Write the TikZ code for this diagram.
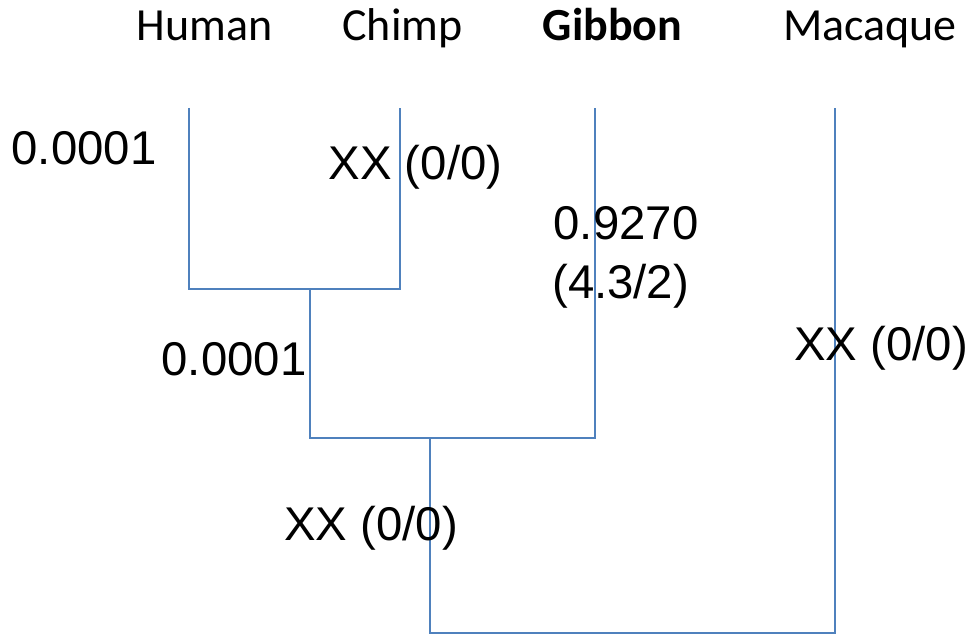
\documentclass[tikz,border=0pt]{standalone}
\usepackage{fontspec}
\setmainfont{Carlito}
\newfontfamily\arialfont{Liberation Sans}
\definecolor{treeblue}{HTML}{4F81BD}
\begin{document}
\begin{tikzpicture}[x=0.75pt,y=-0.75pt,
  taxon/.style={font=\fontsize{34.5}{41}\selectfont, inner sep=0pt, anchor=base},
  blabel/.style={font=\arialfont\fontsize{35.5}{42}\selectfont, inner sep=0pt, anchor=base},
  branch/.style={draw=treeblue, line width=1.2pt}]
\useasboundingbox (0,0) rectangle (973,634);
% taxa
\node[taxon] (human) at (204.5,41) {Human};
\node[taxon] (chimp) at (402.5,41) {Chimp};
\node[taxon] (gibbon) at (612.5,41) {\textbf{Gibbon}};
\node[taxon] (macaque) at (870,41) {Macaque};
% tree coordinates
\coordinate (hT) at (189,108);
\coordinate (cT) at (400,108);
\coordinate (gT) at (595,108);
\coordinate (mT) at (835,108);
\coordinate (n1) at (310,289);
\coordinate (n2) at (430,438);
\coordinate (r) at (632,633);
\draw[branch] (hT) |- (n1) -| (cT);
\draw[branch] (n1) |- (n2) -| (gT);
\draw[branch] (n2) |- (r) -| (mT);
% branch labels
\node[blabel] (l1) at (84,165) {0.0001};
\node[blabel] (l2) at (415.5,180) {XX (0/0)};
\node[blabel] (l3) at (626,240) {0.9270};
\node[blabel, anchor=base west] (l4) at (552,298) {(4.3/2)};
\node[blabel] (l5) at (881,360) {XX (0/0)};
\node[blabel] (l6) at (234,375) {0.0001};
\node[blabel] (l7) at (371,540) {XX (0/0)};
\end{tikzpicture}
\end{document}
